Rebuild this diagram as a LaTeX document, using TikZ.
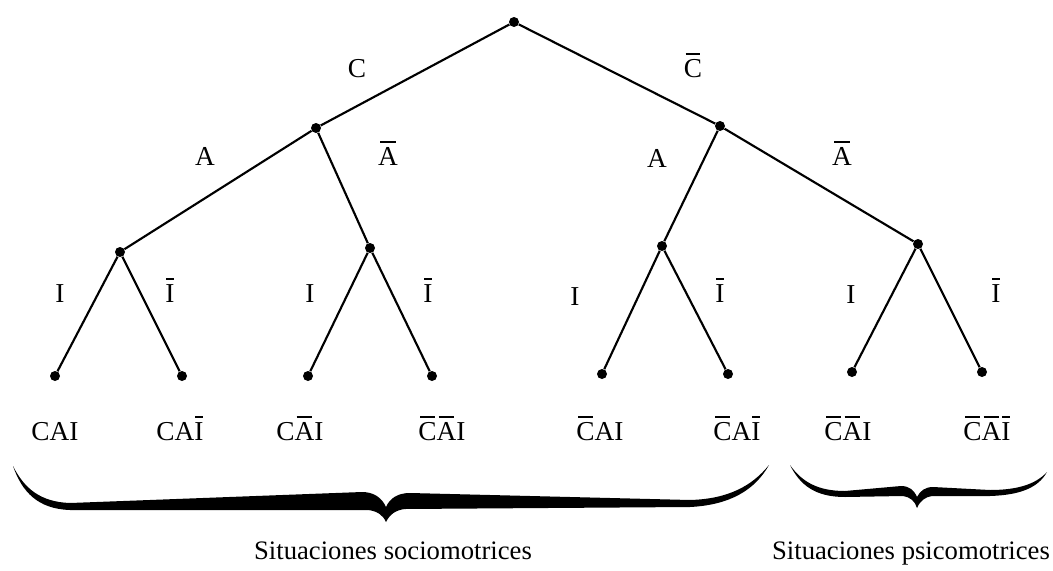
\documentclass[tikz,border=0pt]{standalone}
\usepackage{fontspec}
\setmainfont{Liberation Serif}
\usetikzlibrary{positioning}
\newcommand\ob[1]{\setbox0\hbox{#1}\hbox{\rlap{\hskip0.1\wd0\vrule width0.8\wd0 height\dimexpr\ht0+0.21em\relax depth\dimexpr-\ht0-0.14em\relax}\box0}}

\begin{document}
\begin{tikzpicture}[x=0.75pt,y=-0.75pt,
 dot/.style={circle,fill=black,inner sep=0pt,minimum size=7.5pt},
 br/.style={line width=1.6pt},
 lab/.style={font=\fontsize{20.5}{24}\selectfont,anchor=base,inner sep=0pt},
 caption/.style={font=\fontsize{20}{24}\selectfont,anchor=base,inner sep=0pt}]
\useasboundingbox (0,0) rectangle (1053,571);
% tree nodes
\node[dot] (r) at (514,22) {};
\node[dot] (c) at (316,128) {};
\node[dot] (cn) at (720,126) {};
\node[dot] (ca) at (120,252) {};
\node[dot] (can) at (370,248) {};
\node[dot] (cna) at (662,246) {};
\node[dot] (cnan) at (918,244) {};
\node[dot] (l1) at (55,376) {};
\node[dot] (l2) at (182,376) {};
\node[dot] (l3) at (308,376) {};
\node[dot] (l4) at (432,376) {};
\node[dot] (l5) at (602,374) {};
\node[dot] (l6) at (728,374) {};
\node[dot] (l7) at (852,372) {};
\node[dot] (l8) at (982,372) {};
% branches
\draw[br] (r)--(c); \draw[br] (r)--(cn);
\draw[br] (c)--(ca); \draw[br] (c)--(can);
\draw[br] (cn)--(cna); \draw[br] (cn)--(cnan);
\draw[br] (ca)--(l1); \draw[br] (ca)--(l2);
\draw[br] (can)--(l3); \draw[br] (can)--(l4);
\draw[br] (cna)--(l5); \draw[br] (cna)--(l6);
\draw[br] (cnan)--(l7); \draw[br] (cnan)--(l8);
% branch labels
\node[lab] (tc) at (357,77) {C};
\node[lab] (tcn) at (693,77) {\ob{C}};
\node[lab] (ta1) at (205,165) {A};
\node[lab] (ta2) at (388,165) {\ob{A}};
\node[lab] (ta3) at (657,167) {A};
\node[lab] (ta4) at (842,165) {\ob{A}};
\node[lab] (ti1) at (60,302) {I};
\node[lab] (ti2) at (170,302) {\ob{I}};
\node[lab] (ti3) at (310,302) {I};
\node[lab] (ti4) at (428,302) {\ob{I}};
\node[lab] (ti5) at (575,305) {I};
\node[lab] (ti6) at (720,302) {\ob{I}};
\node[lab] (ti7) at (851,303) {I};
\node[lab] (ti8) at (996,302) {\ob{I}};
% leaf labels
\node[lab] (w1) at (55,440) {CAI};
\node[lab] (w2) at (180,440) {CA\ob{I}};
\node[lab] (w3) at (300,440) {C\ob{A}I};
\node[lab] (w4) at (442,440) {\ob{C}\ob{A}I};
\node[lab] (w5) at (600,440) {\ob{C}AI};
\node[lab] (w6) at (737,440) {\ob{C}A\ob{I}};
\node[lab] (w7) at (848,440) {\ob{C}\ob{A}I};
\node[lab] (w8) at (987,440) {\ob{C}\ob{A}\ob{I}};
% braces
\fill (13,466) .. controls (22,492) and (38,509) .. (70,510)
  -- (368,510) .. controls (377,511) and (383,515) .. (386,522)
  .. controls (390,514) and (396,510) .. (405,509)
  -- (690,507) .. controls (730,505) and (755,490) .. (769,465)
  .. controls (752,486) and (728,499) .. (690,500)
  -- (410,493) .. controls (398,493) and (390,498) .. (386,507)
  .. controls (382,498) and (374,492) .. (362,492)
  -- (70,503) .. controls (40,502) and (24,488) .. (13,466) -- cycle;
\fill (790,465) .. controls (800,485) and (815,497) .. (845,497)
  -- (903,496) .. controls (910,497) and (915,501) .. (917,508)
  .. controls (920,501) and (925,497) .. (932,496)
  -- (990,496) .. controls (1020,495) and (1038,488) .. (1047,472)
  .. controls (1036,484) and (1018,490) .. (990,490)
  -- (933,487) .. controls (925,487) and (920,491) .. (917,497)
  .. controls (914,490) and (909,486) .. (901,486)
  -- (845,491) .. controls (818,491) and (802,482) .. (790,465) -- cycle;
\node[caption] (so) at (393,559) {Situaciones sociomotrices};
\node[caption] (ps) at (911,559) {Situaciones psicomotrices};
\end{tikzpicture}
\end{document}
